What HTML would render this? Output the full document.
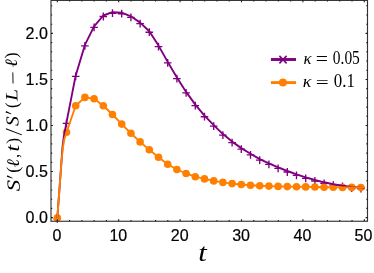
<!DOCTYPE html>
<html><head><meta charset="utf-8"><title>plot</title><style>html,body{margin:0;padding:0;background:#fff;}svg{display:block;will-change:transform;}</style></head><body>
<svg width="374" height="273" viewBox="0 0 374 273">
<rect width="374" height="273" fill="#fff"/>
<path d="M53.50,218.90H61.10M57.30,215.00V222.80" stroke="#800080" stroke-width="1.35" fill="none"/>
<path d="M62.70,123.30H70.30M66.50,119.40V127.20" stroke="#800080" stroke-width="1.35" fill="none"/>
<path d="M71.90,76.40H79.50M75.70,72.50V80.30" stroke="#800080" stroke-width="1.35" fill="none"/>
<path d="M81.10,45.90H88.70M84.90,42.00V49.80" stroke="#800080" stroke-width="1.35" fill="none"/>
<path d="M90.30,27.30H97.90M94.10,23.40V31.20" stroke="#800080" stroke-width="1.35" fill="none"/>
<path d="M99.50,16.50H107.10M103.30,12.60V20.40" stroke="#800080" stroke-width="1.35" fill="none"/>
<path d="M108.70,13.20H116.30M112.50,9.30V17.10" stroke="#800080" stroke-width="1.35" fill="none"/>
<path d="M117.90,13.70H125.50M121.70,9.80V17.60" stroke="#800080" stroke-width="1.35" fill="none"/>
<path d="M127.10,17.30H134.70M130.90,13.40V21.20" stroke="#800080" stroke-width="1.35" fill="none"/>
<path d="M136.30,23.60H143.90M140.10,19.70V27.50" stroke="#800080" stroke-width="1.35" fill="none"/>
<path d="M145.50,32.20H153.10M149.30,28.30V36.10" stroke="#800080" stroke-width="1.35" fill="none"/>
<path d="M154.70,46.60H162.30M158.50,42.70V50.50" stroke="#800080" stroke-width="1.35" fill="none"/>
<path d="M163.90,62.90H171.50M167.70,59.00V66.80" stroke="#800080" stroke-width="1.35" fill="none"/>
<path d="M173.10,78.60H180.70M176.90,74.70V82.50" stroke="#800080" stroke-width="1.35" fill="none"/>
<path d="M182.30,92.90H189.90M186.10,89.00V96.80" stroke="#800080" stroke-width="1.35" fill="none"/>
<path d="M191.50,105.60H199.10M195.30,101.70V109.50" stroke="#800080" stroke-width="1.35" fill="none"/>
<path d="M200.70,116.70H208.30M204.50,112.80V120.60" stroke="#800080" stroke-width="1.35" fill="none"/>
<path d="M209.90,126.10H217.50M213.70,122.20V130.00" stroke="#800080" stroke-width="1.35" fill="none"/>
<path d="M219.10,135.10H226.70M222.90,131.20V139.00" stroke="#800080" stroke-width="1.35" fill="none"/>
<path d="M228.30,142.60H235.90M232.10,138.70V146.50" stroke="#800080" stroke-width="1.35" fill="none"/>
<path d="M237.50,149.10H245.10M241.30,145.20V153.00" stroke="#800080" stroke-width="1.35" fill="none"/>
<path d="M246.70,154.80H254.30M250.50,150.90V158.70" stroke="#800080" stroke-width="1.35" fill="none"/>
<path d="M255.90,160.10H263.50M259.70,156.20V164.00" stroke="#800080" stroke-width="1.35" fill="none"/>
<path d="M265.10,164.30H272.70M268.90,160.40V168.20" stroke="#800080" stroke-width="1.35" fill="none"/>
<path d="M274.30,168.30H281.90M278.10,164.40V172.20" stroke="#800080" stroke-width="1.35" fill="none"/>
<path d="M283.50,172.00H291.10M287.30,168.10V175.90" stroke="#800080" stroke-width="1.35" fill="none"/>
<path d="M292.70,175.40H300.30M296.50,171.50V179.30" stroke="#800080" stroke-width="1.35" fill="none"/>
<path d="M301.90,178.40H309.50M305.70,174.50V182.30" stroke="#800080" stroke-width="1.35" fill="none"/>
<path d="M311.10,181.00H318.70M314.90,177.10V184.90" stroke="#800080" stroke-width="1.35" fill="none"/>
<path d="M320.30,183.30H327.90M324.10,179.40V187.20" stroke="#800080" stroke-width="1.35" fill="none"/>
<path d="M329.50,185.20H337.10M333.30,181.30V189.10" stroke="#800080" stroke-width="1.35" fill="none"/>
<path d="M338.70,186.50H346.30M342.50,182.60V190.40" stroke="#800080" stroke-width="1.35" fill="none"/>
<path d="M347.90,188.10H355.50M351.70,184.20V192.00" stroke="#800080" stroke-width="1.35" fill="none"/>
<path d="M357.10,188.50H364.70M360.90,184.60V192.40" stroke="#800080" stroke-width="1.35" fill="none"/>
<circle cx="57.30" cy="217.80" r="3.8" fill="#FF8000"/>
<circle cx="66.50" cy="132.20" r="3.8" fill="#FF8000"/>
<circle cx="75.70" cy="105.70" r="3.8" fill="#FF8000"/>
<circle cx="84.90" cy="97.40" r="3.8" fill="#FF8000"/>
<circle cx="94.10" cy="98.80" r="3.8" fill="#FF8000"/>
<circle cx="103.30" cy="105.70" r="3.8" fill="#FF8000"/>
<circle cx="112.50" cy="114.50" r="3.8" fill="#FF8000"/>
<circle cx="121.70" cy="124.10" r="3.8" fill="#FF8000"/>
<circle cx="130.90" cy="133.20" r="3.8" fill="#FF8000"/>
<circle cx="140.10" cy="141.90" r="3.8" fill="#FF8000"/>
<circle cx="149.30" cy="149.80" r="3.8" fill="#FF8000"/>
<circle cx="158.50" cy="157.20" r="3.8" fill="#FF8000"/>
<circle cx="167.70" cy="164.20" r="3.8" fill="#FF8000"/>
<circle cx="176.90" cy="169.50" r="3.8" fill="#FF8000"/>
<circle cx="186.10" cy="173.50" r="3.8" fill="#FF8000"/>
<circle cx="195.30" cy="176.70" r="3.8" fill="#FF8000"/>
<circle cx="204.50" cy="178.90" r="3.8" fill="#FF8000"/>
<circle cx="213.70" cy="180.90" r="3.8" fill="#FF8000"/>
<circle cx="222.90" cy="182.40" r="3.8" fill="#FF8000"/>
<circle cx="232.10" cy="183.60" r="3.8" fill="#FF8000"/>
<circle cx="241.30" cy="184.50" r="3.8" fill="#FF8000"/>
<circle cx="250.50" cy="185.30" r="3.8" fill="#FF8000"/>
<circle cx="259.70" cy="185.80" r="3.8" fill="#FF8000"/>
<circle cx="268.90" cy="186.10" r="3.8" fill="#FF8000"/>
<circle cx="278.10" cy="186.40" r="3.8" fill="#FF8000"/>
<circle cx="287.30" cy="186.60" r="3.8" fill="#FF8000"/>
<circle cx="296.50" cy="186.70" r="3.8" fill="#FF8000"/>
<circle cx="305.70" cy="186.90" r="3.8" fill="#FF8000"/>
<circle cx="314.90" cy="187.00" r="3.8" fill="#FF8000"/>
<circle cx="324.10" cy="187.20" r="3.8" fill="#FF8000"/>
<circle cx="333.30" cy="187.30" r="3.8" fill="#FF8000"/>
<circle cx="342.50" cy="187.40" r="3.8" fill="#FF8000"/>
<circle cx="351.70" cy="187.40" r="3.8" fill="#FF8000"/>
<circle cx="360.90" cy="187.60" r="3.8" fill="#FF8000"/>
<polyline points="57.30,217.80 59.40,190.00 61.55,160.50 62.50,147.00 63.80,137.00 66.50,122.30 75.70,75.40 84.90,44.90 94.10,26.30 103.30,15.50 112.50,12.20 121.70,12.70 130.90,16.30 140.10,22.60 149.30,31.20 158.50,45.60 167.70,61.90 176.90,77.60 186.10,91.90 195.30,104.60 204.50,115.70 213.70,125.10 222.90,134.10 232.10,141.60 241.30,148.10 250.50,153.80 259.70,159.10 268.90,163.30 278.10,167.30 287.30,171.00 296.50,174.40 305.70,177.40 314.90,180.00 324.10,182.30 333.30,184.20 342.50,185.70 351.70,187.00 360.90,187.60 364.30,188.00" fill="none" stroke="#800080" stroke-width="1.9" stroke-linejoin="round" stroke-linecap="butt"/>
<polyline points="57.30,217.80 59.40,190.00 61.60,160.00 63.00,147.00 64.40,139.00 66.50,132.20 75.70,105.70 84.90,97.40 94.10,98.80 103.30,105.70 112.50,114.50 121.70,124.10 130.90,133.20 140.10,141.90 149.30,149.80 158.50,157.20 167.70,164.20 176.90,169.50 186.10,173.50 195.30,176.70 204.50,178.90 213.70,180.90 222.90,182.40 232.10,183.60 241.30,184.50 250.50,185.30 259.70,185.80 268.90,186.10 278.10,186.40 287.30,186.60 296.50,186.70 305.70,186.90 314.90,187.00 324.10,187.20 333.30,187.30 342.50,187.40 351.70,187.40 360.90,187.60 364.30,187.50" fill="none" stroke="#FF8000" stroke-width="1.9" stroke-linejoin="round" stroke-linecap="butt"/>
<rect x="51.0" y="0.4" width="316.5" height="220.85" fill="none" stroke="#333" stroke-width="1.15"/>
<path d="M51.0,217.60h1.9M367.5,217.60h-1.9M51.0,208.39h1.2M367.5,208.39h-1.2M51.0,199.18h1.2M367.5,199.18h-1.2M51.0,189.97h1.2M367.5,189.97h-1.2M51.0,180.76h1.2M367.5,180.76h-1.2M51.0,171.55h1.9M367.5,171.55h-1.9M51.0,162.34h1.2M367.5,162.34h-1.2M51.0,153.13h1.2M367.5,153.13h-1.2M51.0,143.92h1.2M367.5,143.92h-1.2M51.0,134.71h1.2M367.5,134.71h-1.2M51.0,125.50h1.9M367.5,125.50h-1.9M51.0,116.29h1.2M367.5,116.29h-1.2M51.0,107.08h1.2M367.5,107.08h-1.2M51.0,97.87h1.2M367.5,97.87h-1.2M51.0,88.66h1.2M367.5,88.66h-1.2M51.0,79.45h1.9M367.5,79.45h-1.9M51.0,70.24h1.2M367.5,70.24h-1.2M51.0,61.03h1.2M367.5,61.03h-1.2M51.0,51.82h1.2M367.5,51.82h-1.2M51.0,42.61h1.2M367.5,42.61h-1.2M51.0,33.40h1.9M367.5,33.40h-1.9M51.0,24.19h1.2M367.5,24.19h-1.2M51.0,14.98h1.2M367.5,14.98h-1.2M51.0,5.77h1.2M367.5,5.77h-1.2M57.30,221.25v-1.9M57.30,0.4v1.9M69.58,221.25v-1.2M69.58,0.4v1.2M81.86,221.25v-1.2M81.86,0.4v1.2M94.14,221.25v-1.2M94.14,0.4v1.2M106.42,221.25v-1.2M106.42,0.4v1.2M118.70,221.25v-1.9M118.70,0.4v1.9M130.98,221.25v-1.2M130.98,0.4v1.2M143.26,221.25v-1.2M143.26,0.4v1.2M155.54,221.25v-1.2M155.54,0.4v1.2M167.82,221.25v-1.2M167.82,0.4v1.2M180.10,221.25v-1.9M180.10,0.4v1.9M192.38,221.25v-1.2M192.38,0.4v1.2M204.66,221.25v-1.2M204.66,0.4v1.2M216.94,221.25v-1.2M216.94,0.4v1.2M229.22,221.25v-1.2M229.22,0.4v1.2M241.50,221.25v-1.9M241.50,0.4v1.9M253.78,221.25v-1.2M253.78,0.4v1.2M266.06,221.25v-1.2M266.06,0.4v1.2M278.34,221.25v-1.2M278.34,0.4v1.2M290.62,221.25v-1.2M290.62,0.4v1.2M302.90,221.25v-1.9M302.90,0.4v1.9M315.18,221.25v-1.2M315.18,0.4v1.2M327.46,221.25v-1.2M327.46,0.4v1.2M339.74,221.25v-1.2M339.74,0.4v1.2M352.02,221.25v-1.2M352.02,0.4v1.2M364.30,221.25v-1.9M364.30,0.4v1.9" stroke="#1a1a1a" stroke-width="1.1" fill="none"/>
<g font-family="'Liberation Sans', sans-serif" font-size="16px" fill="#000" stroke="#000" stroke-width="0.2">
<text x="47.8" y="223.35" text-anchor="end">0.0</text>
<text x="47.8" y="177.30" text-anchor="end">0.5</text>
<text x="47.8" y="131.25" text-anchor="end">1.0</text>
<text x="47.8" y="85.20" text-anchor="end">1.5</text>
<text x="47.8" y="39.15" text-anchor="end">2.0</text>
<text x="56.90" y="241" text-anchor="middle">0</text>
<text x="118.30" y="241" text-anchor="middle">10</text>
<text x="179.70" y="241" text-anchor="middle">20</text>
<text x="241.10" y="241" text-anchor="middle">30</text>
<text x="302.50" y="241" text-anchor="middle">40</text>
<text x="363.40" y="241" text-anchor="middle">50</text>
</g>
<g font-family="'Liberation Serif', serif" fill="#000"><text transform="translate(198.28,261.29) scale(1.177,1)" font-size="25.91px" font-style="italic">t</text></g>
<g transform="translate(20,191) rotate(-91.1)" font-family="'Liberation Serif', serif" fill="#000">
<text transform="translate(-0.14,-0.23) scale(1.246,1)" font-size="18.44px" font-style="italic">S</text>
<text transform="translate(18.34,-0.77) scale(1.004,1)" font-size="17.96px">(</text>
<text transform="translate(23.86,-0.62) scale(1.122,1)" font-size="17.48px" font-style="italic">ℓ</text>
<text transform="translate(33.30,-0.62) scale(0.821,1)" font-size="17.86px">,</text>
<text transform="translate(39.56,-0.34) scale(1.251,1)" font-size="19.30px" font-style="italic">t</text>
<text transform="translate(47.61,-0.70) scale(0.947,1)" font-size="17.63px">)</text>
<text transform="translate(65.00,-0.33) scale(1.091,1)" font-size="18.14px" font-style="italic">S</text>
<text transform="translate(82.97,-0.57) scale(0.961,1)" font-size="17.96px">(</text>
<text transform="translate(89.92,-0.65) scale(1.260,1)" font-size="17.40px" font-style="italic">L</text>
<text transform="translate(123.75,-0.72) scale(1.156,1)" font-size="17.19px" font-style="italic">ℓ</text>
<text transform="translate(132.67,-0.57) scale(0.995,1)" font-size="17.96px">)</text>
<path d="M107.6,-4.9H118.7" stroke="#000" stroke-width="0.9" fill="none"/>
<path d="M56.1,2.9L62.6,-12.9" stroke="#000" stroke-width="1.0" fill="none"/>
<polygon points="15.94,-12.29 14.46,-12.91 12.62,-7.32 13.18,-7.08" fill="#000"/>
<polygon points="80.14,-12.29 78.66,-12.91 76.82,-7.32 77.38,-7.08" fill="#000"/>
</g>
<path d="M270.9,59.5H296" stroke="#800080" stroke-width="2.9" fill="none"/>
<path d="M279.40,55.85L286.60,63.35M286.60,55.85L279.40,63.35" stroke="#800080" stroke-width="1.6" fill="none"/>
<path d="M270.9,82.6H296" stroke="#FF8000" stroke-width="2.9" fill="none"/>
<circle cx="282.9" cy="82.6" r="4.0" fill="#FF8000"/>
<g font-family="'Liberation Serif', serif" fill="#000">
<text transform="translate(303.42,64.45) scale(0.966,1)" font-size="17.39px" font-style="italic">κ</text>
<text transform="translate(315.86,65.28) scale(1.207,1)" font-size="18.00px">=</text>
<text transform="translate(332.77,64.17) scale(0.823,1)" font-size="18.82px">0.05</text>
<text transform="translate(302.68,87.45) scale(1.029,1)" font-size="17.39px" font-style="italic">κ</text>
<text transform="translate(315.80,88.42) scale(1.338,1)" font-size="17.20px">=</text>
<text transform="translate(333.72,87.18) scale(0.935,1)" font-size="18.09px">0.1</text>
</g>
</svg>
</body></html>
